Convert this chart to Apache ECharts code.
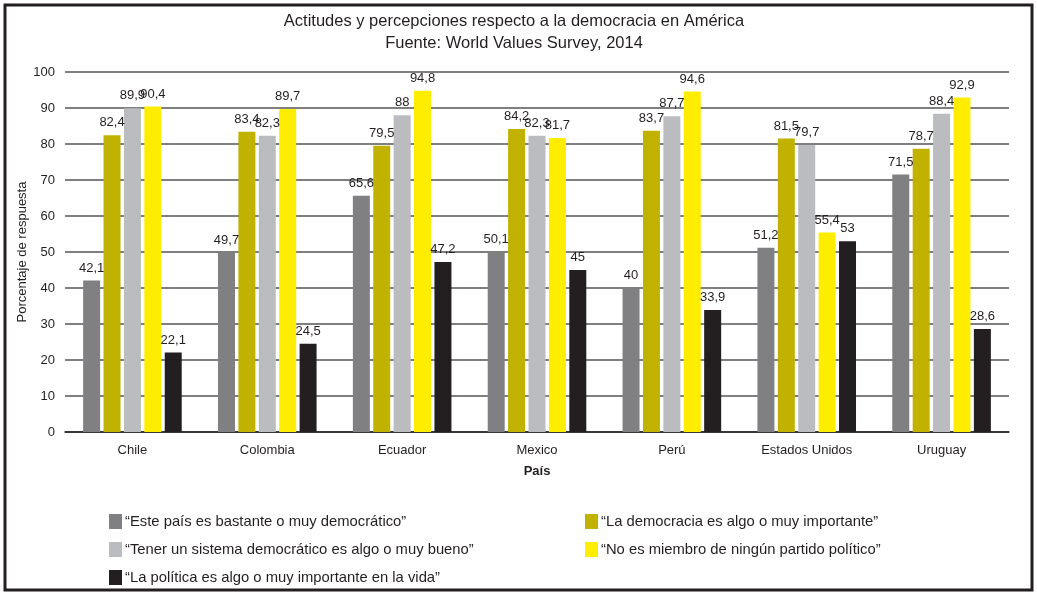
<!DOCTYPE html>
<html><head><meta charset="utf-8">
<script src="https://cdn.jsdelivr.net/npm/echarts@6/dist/echarts.min.js"></script>
<style>html,body{margin:0;padding:0;background:#fff}#c{width:1037px;height:594px}</style>
</head><body><div id="c"></div>
<script>
const categories = ['Chile','Colombia','Ecuador','Mexico','Perú','Estados Unidos','Uruguay'];
const seriesNames = [
  '“Este país es bastante o muy democrático”',
  '“La democracia es algo o muy importante”',
  '“Tener un sistema democrático es algo o muy bueno”',
  '“No es miembro de ningún partido político”',
  '“La política es algo o muy importante en la vida”'
];
const democratico = [42.1, 49.7, 65.6, 50.1, 40, 51.2, 71.5];
const importante = [82.4, 83.4, 79.5, 84.2, 83.7, 81.5, 78.7];
const bueno = [89.9, 82.3, 88, 82.3, 87.7, 79.7, 88.4];
const noPartido = [90.4, 89.7, 94.8, 81.7, 94.6, 55.4, 92.9];
const politica = [22.1, 24.5, 47.2, 45, 33.9, 53, 28.6];
const yTicks = [0,10,20,30,40,50,60,70,80,90,100];
const yTitle = 'Porcentaje de respuesta';

const colors = ['#808083','#c2b200','#bbbcbf','#ffed00','#231f20'];
const values = [democratico, importante, bueno, noPartido, politica];
const font = '"Liberation Sans", Arial, sans-serif';

const chart = echarts.init(document.getElementById('c'));
chart.setOption({
  animation: false,
  textStyle: {fontFamily: font},
  title: {
    text: 'Actitudes y percepciones respecto a la democracia en América\nFuente: World Values Survey, 2014',
    left: 509, top: 5, textAlign: 'center',
    textStyle: {fontSize: 16.5, fontWeight: 'normal', color: '#231f20', lineHeight: 22, fontFamily: font}
  },
  graphic: [{
    type: 'rect', shape: {x: 5, y: 5, width: 1027, height: 585},
    style: {fill: 'none', stroke: '#231f20', lineWidth: 3}, z: 100
  }, {
    type: 'text', x: 22, y: 252, rotation: Math.PI / 2,
    style: {text: yTitle, fontSize: 13, fill: '#231f20', fontFamily: font,
      align: 'center', verticalAlign: 'middle'}
  }],
  legend: [
    {data: [seriesNames[0], seriesNames[2], seriesNames[4]], left: 104, top: 509, orient: 'vertical',
     itemWidth: 13, itemHeight: 15, itemGap: 13, icon: 'rect',
     textStyle: {fontSize: 14.8, color: '#231f20', fontFamily: font, padding: [0,0,0,-2]}},
    {data: [seriesNames[1], seriesNames[3]], left: 580, top: 509, orient: 'vertical',
     itemWidth: 13, itemHeight: 15, itemGap: 13, icon: 'rect',
     textStyle: {fontSize: 14.8, color: '#231f20', fontFamily: font, padding: [0,0,0,-2]}}
  ],
  grid: {left: 65, right: 28, top: 72, bottom: 162},
  xAxis: {
    type: 'category', data: categories,
    name: 'País', nameLocation: 'middle', nameGap: 33,
    nameTextStyle: {fontWeight: 'bold', fontSize: 13, color: '#231f20'},
    axisLine: {lineStyle: {color: '#231f20', width: 1.5}},
    axisTick: {show: false},
    axisLabel: {fontSize: 13, color: '#231f20', margin: 12}
  },
  yAxis: {
    type: 'value', min: 0, max: 100, interval: 10,
    axisLine: {show: false}, axisTick: {show: false},
    axisLabel: {fontSize: 13, color: '#231f20', margin: 10,
      formatter: v => yTicks.includes(v) ? String(v) : ''},
    splitLine: {lineStyle: {color: '#555', width: 1.5}}
  },
  series: values.map((d, i) => ({
    name: seriesNames[i], type: 'bar', data: d,
    barWidth: 17, barGap: '20%',
    itemStyle: {color: colors[i]},
    label: {show: true, position: 'top', distance: 6, fontSize: 13, color: '#231f20',
      formatter: p => String(p.value).replace('.', ',')}
  }))
});
</script></body></html>
